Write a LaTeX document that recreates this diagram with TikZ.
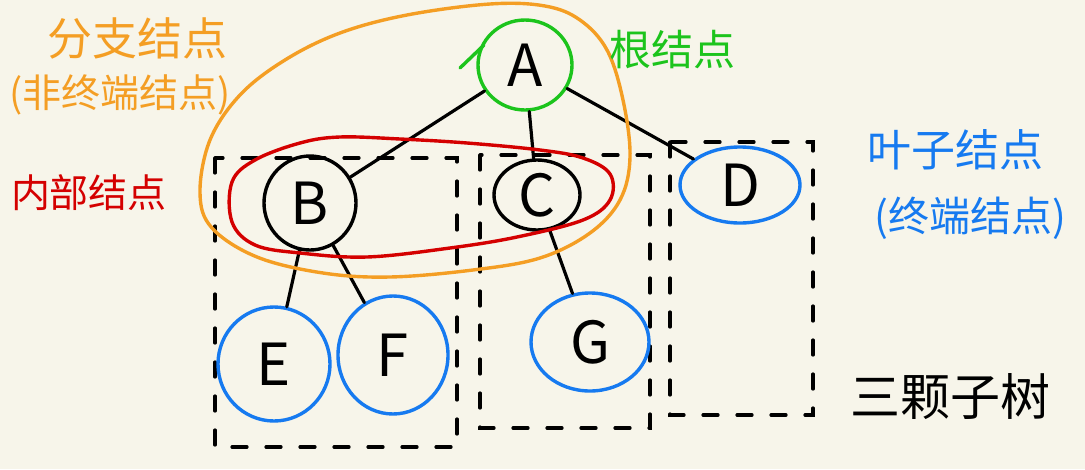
\documentclass[tikz,border=0pt]{standalone}
\usepackage{fontspec}
\setmainfont{Noto Sans CJK SC}
\usetikzlibrary{shapes.geometric}
\definecolor{bg}{RGB}{247,245,234}
\definecolor{org}{RGB}{244,158,36}
\definecolor{grn}{RGB}{28,196,28}
\definecolor{rd}{RGB}{212,0,0}
\definecolor{blu}{RGB}{22,122,240}
\tikzset{
  treenode/.style={ellipse, line width=3.4pt, inner sep=0pt, font=\fontsize{58}{58}\selectfont, text=black},
  edge/.style={line width=3.2pt, line cap=round, black},
  box/.style={line width=3.2pt, line cap=round, black, dash pattern=on 15pt off 19pt},
  hull/.style={line width=3.4pt, line cap=round},
  lbl/.style={inner sep=0pt, font=\fontsize{38}{40}\selectfont}
}
\begin{document}
\begin{tikzpicture}[x=1pt,y=-1pt]
\fill[bg] (0,0) rectangle (1085,469);
\useasboundingbox (0,0) rectangle (1085,469);
% dashed subtree boxes
\draw[box] (215,158) rectangle (457,447);
\draw[box] (480,155) rectangle (650,428);
\draw[box] (670,142) rectangle (813,415);
% nodes
\node[treenode, draw=grn, minimum width=94pt, minimum height=90pt] (A) at (525,65) {A};
\node[treenode, draw=black, minimum width=92pt, minimum height=94pt] (B) at (310,203) {B};
\node[treenode, draw=black, minimum width=86pt, minimum height=70pt] (C) at (537,195) {C};
\node[treenode, draw=blu, minimum width=120pt, minimum height=76pt] (D) at (740,185) {D};
\node[treenode, draw=blu, minimum width=112pt, minimum height=114pt] (E) at (274,364) {E};
\node[treenode, draw=blu, minimum width=110pt, minimum height=118pt] (F) at (393,355) {F};
\node[treenode, draw=blu, minimum width=118pt, minimum height=98pt] (G) at (590,342) {G};
\coordinate (At) at (460,68);
\coordinate (Au) at (484,45);
\draw[hull, grn] (At) -- (Au);
% edges
\draw[edge] (A) -- (B);
\draw[edge] (A) -- (C);
\draw[edge] (A) -- (D);
\draw[edge] (B) -- (E);
\draw[edge] (B) -- (F);
\draw[edge] (C) -- (G);
% orange hull (branch nodes)
\draw[hull, org] plot[smooth cycle, tension=0.6] coordinates {
 (200,193) (210,140) (240,95) (285,60) (340,33) (407,15) (490,4) (545,6) (580,20)
 (607,50) (623,100) (630,157) (620,200) (590,233) (540,258) (473,270) (390,277)
 (323,273) (257,257) (212,228)};
% red hull (internal nodes)
\draw[hull, rd] plot[smooth cycle, tension=0.6] coordinates {
 (232,182) (255,160) (300,143) (340,137) (400,139) (467,143) (540,150) (583,158)
 (610,174) (610,200) (583,220) (517,237) (450,248) (367,257) (300,253) (255,245)
 (232,222)};
% labels
\node[lbl, text=org, font=\fontsize{45}{46}\selectfont] (l1) at (137,38) {分支结点};
\node[lbl, text=org, font=\fontsize{39}{40}\selectfont] (l2) at (120,95) {(非终端结点)};
\node[lbl, text=grn, font=\fontsize{42}{44}\selectfont] (l3) at (672,50) {根结点};
\node[lbl, text=rd, font=\fontsize{39}{40}\selectfont] (l4) at (89,193) {内部结点};
\node[lbl, text=blu, font=\fontsize{44}{46}\selectfont] (l5) at (955,150) {叶子结点};
\node[lbl, text=blu, font=\fontsize{41}{44}\selectfont] (l6) at (970,218) {(终端结点)};
\node[lbl, text=black, font=\fontsize{50}{52}\selectfont] (l7) at (950,397) {三颗子树};
\end{tikzpicture}
\end{document}
